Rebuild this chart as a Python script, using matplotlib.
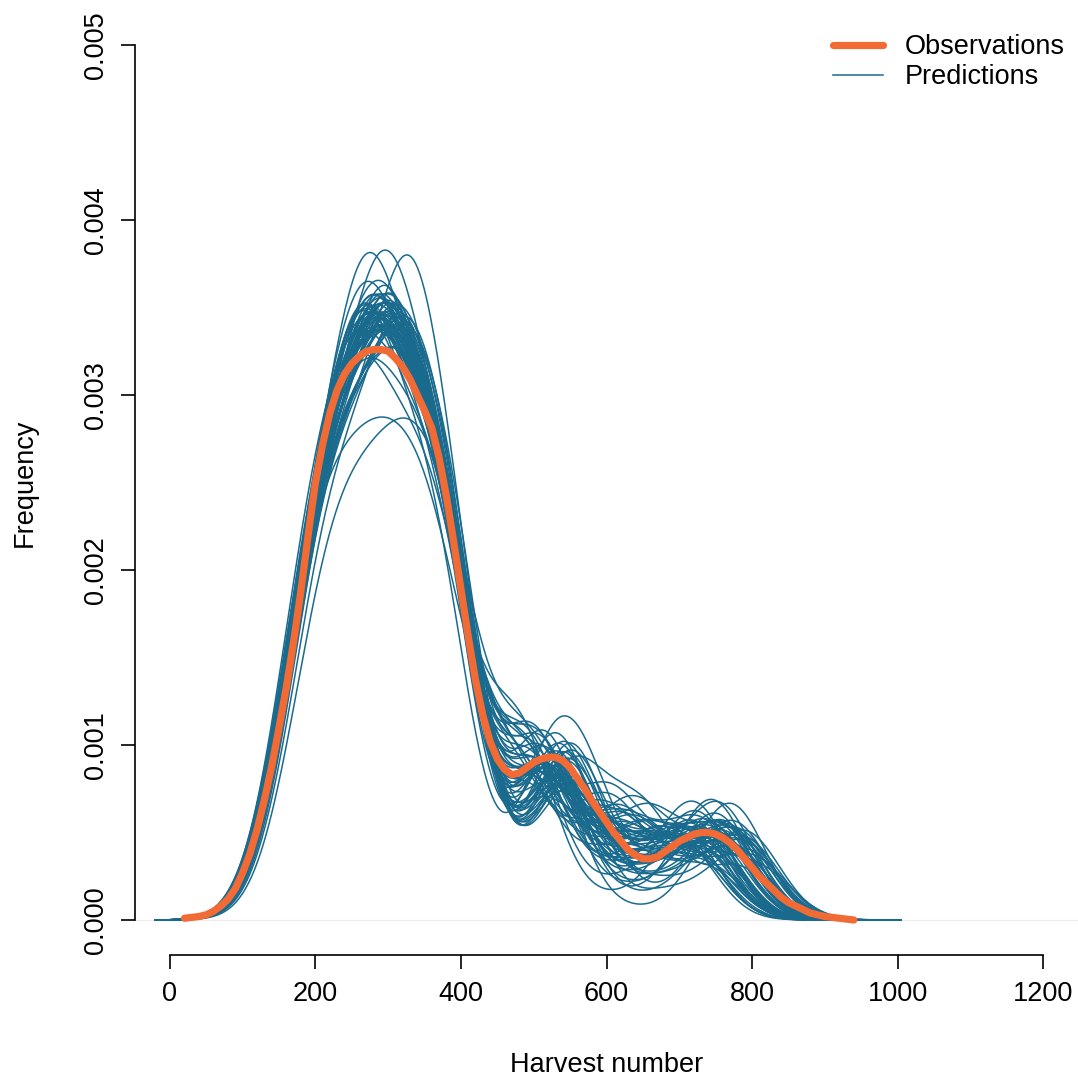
import math
import numpy as np
import matplotlib
matplotlib.use("Agg")
import matplotlib.pyplot as plt

plt.rcParams["font.family"] = ["Liberation Sans", "DejaVu Sans"]

obs_x = list(range(20, 950, 10))
obs_y = [0.00001, 0.000015, 0.00002, 0.00003, 0.00005, 0.00008, 0.00012, 0.00018,
         0.00027, 0.00038, 0.00052, 0.00069, 0.00088, 0.00110, 0.00133, 0.00159,
         0.00188, 0.00220, 0.00250, 0.00272, 0.00290, 0.00303, 0.00312, 0.00318,
         0.00322, 0.00325, 0.00326, 0.00326, 0.00325, 0.00321, 0.00316, 0.00309,
         0.00300, 0.00291, 0.00281, 0.00264, 0.00242, 0.00216, 0.00189, 0.00162,
         0.00137, 0.00117, 0.00102, 0.00092, 0.00086, 0.00083, 0.00084, 0.00087,
         0.00090, 0.00092, 0.00093, 0.00093, 0.00091, 0.00087, 0.00081, 0.00075,
         0.00068, 0.00062, 0.00056, 0.00050, 0.00045, 0.00040, 0.00037, 0.00035,
         0.00035, 0.00036, 0.00039, 0.00042, 0.00045, 0.00047, 0.00049, 0.00050,
         0.00050, 0.00049, 0.00047, 0.00044, 0.00040, 0.00035, 0.00030, 0.00025,
         0.00021, 0.00017, 0.00013, 0.00010, 0.00008, 0.00006, 0.00004, 0.00003,
         0.00002, 0.000015, 0.00001, 0.000005, 0.0]

# predicted densities, one entry per simulated curve:
# main hump (left/right edge, plateau height), extra peak, three tail bumps
pred_left = [163, 166, 170, 160, 168, 164, 167, 158,
             172, 165, 162, 169, 166, 156, 174, 164,
             168, 161, 170, 165, 163, 167, 171, 160,
             166, 169, 163, 174, 165, 162, 168, 164,
             171, 166, 158, 176, 163, 167, 165, 169,
             162, 170, 164, 168, 166, 172, 161, 167,
             165, 160, 169, 163, 171, 166, 164, 168,
             162, 167, 170, 165, 159, 168, 164, 166]
pred_right = [410, 414, 422, 406, 416, 410, 413, 404,
              419, 411, 408, 415, 412, 402, 424, 409,
              414, 407, 418, 410, 407, 416, 420, 405,
              413, 417, 408, 422, 411, 406, 415, 409,
              419, 412, 402, 426, 409, 414, 410, 416,
              407, 418, 409, 413, 411, 420, 405, 412,
              410, 404, 416, 408, 418, 412, 409, 414,
              406, 413, 417, 410, 403, 415, 409, 411]
pred_height = [0.00310, 0.00312, 0.00300, 0.00305, 0.00315, 0.00320, 0.00310, 0.00300,
               0.00318, 0.00322, 0.00315, 0.00300, 0.00330, 0.00295, 0.00310, 0.00325,
               0.00320, 0.00310, 0.00315, 0.00305, 0.00290, 0.00300, 0.00310, 0.00320,
               0.00315, 0.00305, 0.00300, 0.00290, 0.00318, 0.00312, 0.00322, 0.00308,
               0.00300, 0.00325, 0.00280, 0.00270, 0.00318, 0.00310, 0.00300, 0.00315,
               0.00320, 0.00305, 0.00312, 0.00328, 0.00300, 0.00310, 0.00315, 0.00305,
               0.00312, 0.00318, 0.00302, 0.00325, 0.00308, 0.00316, 0.00322, 0.00306,
               0.00314, 0.00300, 0.00320, 0.00310, 0.00326, 0.00304, 0.00317, 0.00311]
pred_peak_x = [272, 296, 330, 285, 300, 260, 310, 275,
               320, 290, 250, 305, 280, 265, 325, 295,
               285, 270, 315, 300, 255, 290, 310, 275,
               282, 298, 268, 318, 288, 278, 305, 262,
               322, 292, 300, 330, 285, 275, 295, 312,
               270, 300, 282, 296, 258, 328, 278, 290,
               284, 306, 266, 314, 292, 276, 300, 288,
               268, 310, 280, 296, 274, 318, 286, 302]
pred_peak_h = [0.00075, 0.00073, 0.00085, 0.00055, 0.00045, 0.00035, 0.00040, 0.00050,
               0.00030, 0.00020, 0.00030, 0.00055, 0.00010, 0.00060, 0.00035, 0.00025,
               0.00030, 0.00045, 0.00040, 0.00035, 0.00040, 0.00060, 0.00020, 0.00020,
               0.00035, 0.00050, 0.00025, 0.00060, 0.00040, 0.00030, 0.00020, 0.00050,
               0.00045, 0.00015, 0.00010, 0.00020, 0.00050, 0.00040, 0.00065, 0.00030,
               0.00025, 0.00045, 0.00035, 0.00020, 0.00055, 0.00040, 0.00045, 0.00050,
               0.00030, 0.00040, 0.00050, 0.00025, 0.00035, 0.00045, 0.00020, 0.00040,
               0.00055, 0.00030, 0.00035, 0.00045, 0.00025, 0.00040, 0.00030, 0.00050]
pred_t1_x = [505, 530, 545, 495, 520, 485, 535, 480,
             540, 515, 500, 530, 510, 530, 545, 505,
             540, 490, 550, 515, 480, 525, 540, 495,
             520, 510, 475, 550, 500, 530, 515, 490,
             550, 505, 470, 550, 520, 535, 500, 525,
             510, 550, 485, 515, 505, 545, 495, 530,
             515, 515, 490, 525, 545, 500, 520, 535,
             485, 530, 545, 510, 495, 525, 505, 540]
pred_t1_h = [0.00080, 0.00075, 0.00090, 0.00095, 0.00085, 0.00080, 0.00100, 0.00085,
             0.00075, 0.00105, 0.00085, 0.00080, 0.00095, 0.00095, 0.00090, 0.00075,
             0.00095, 0.00100, 0.00085, 0.00065, 0.00105, 0.00085, 0.00080, 0.00090,
             0.00075, 0.00100, 0.00080, 0.00080, 0.00075, 0.00095, 0.00085, 0.00095,
             0.00095, 0.00085, 0.00080, 0.00075, 0.00090, 0.00070, 0.00105, 0.00090,
             0.00080, 0.00100, 0.00090, 0.00095, 0.00085, 0.00075, 0.00075, 0.00105,
             0.00085, 0.00085, 0.00095, 0.00090, 0.00080, 0.00100, 0.00085, 0.00075,
             0.00090, 0.00080, 0.00095, 0.00085, 0.00070, 0.00090, 0.00080, 0.00100]
pred_t2_x = [630, 650, 665, 615, 640, 605, 680, 600,
             660, 640, 620, 655, 630, 590, 690, 625,
             670, 610, 650, 635, 600, 645, 675, 620,
             645, 630, 595, 670, 610, 660, 640, 625,
             665, 630, 585, 695, 645, 655, 615, 675,
             635, 660, 600, 640, 620, 655, 615, 650,
             625, 665, 605, 645, 680, 615, 640, 660,
             600, 650, 670, 630, 610, 645, 620, 660]
pred_t2_h = [0.00030, 0.00020, 0.00040, 0.00035, 0.00025, 0.00050, 0.00015, 0.00035,
             0.00045, 0.00010, 0.00055, 0.00050, 0.00020, 0.00040, 0.00035, 0.00045,
             0.00020, 0.00025, 0.00060, 0.00065, 0.00010, 0.00035, 0.00045, 0.00030,
             0.00050, 0.00005, 0.00050, 0.00030, 0.00065, 0.00035, 0.00040, 0.00020,
             0.00030, 0.00045, 0.00050, 0.00050, 0.00025, 0.00060, 0.00015, 0.00035,
             0.00055, 0.00010, 0.00045, 0.00030, 0.00050, 0.00040, 0.00060, 0.00020,
             0.00035, 0.00050, 0.00070, 0.00025, 0.00040, 0.00055, 0.00015, 0.00045,
             0.00060, 0.00030, 0.00020, 0.00050, 0.00040, 0.00010, 0.00055, 0.00035]
pred_t3_x = [740, 760, 775, 730, 750, 720, 790, 705,
             775, 745, 725, 760, 735, 710, 800, 740,
             770, 720, 780, 745, 715, 755, 785, 730,
             750, 765, 705, 790, 735, 760, 745, 725,
             780, 740, 700, 805, 755, 765, 730, 775,
             745, 770, 720, 750, 735, 775, 725, 760,
             735, 780, 715, 755, 790, 725, 750, 770,
             710, 760, 785, 740, 720, 755, 730, 775]
pred_t3_h = [0.00040, 0.00045, 0.00035, 0.00050, 0.00055, 0.00045, 0.00040, 0.00050,
             0.00050, 0.00068, 0.00035, 0.00045, 0.00050, 0.00040, 0.00035, 0.00055,
             0.00040, 0.00066, 0.00030, 0.00045, 0.00055, 0.00065, 0.00045, 0.00040,
             0.00050, 0.00055, 0.00050, 0.00050, 0.00030, 0.00040, 0.00050, 0.00060,
             0.00045, 0.00045, 0.00045, 0.00030, 0.00055, 0.00050, 0.00045, 0.00040,
             0.00035, 0.00066, 0.00055, 0.00045, 0.00050, 0.00055, 0.00040, 0.00050,
             0.00045, 0.00050, 0.00040, 0.00055, 0.00045, 0.00035, 0.00060, 0.00050,
             0.00040, 0.00055, 0.00045, 0.00030, 0.00050, 0.00045, 0.00055, 0.00040]

xticks = [0, 200, 400, 600, 800, 1000, 1200]
yticks = [0.000, 0.001, 0.002, 0.003, 0.004, 0.005]

orange = "#F26B35"
blue = "#1A6A8E"

erf = np.vectorize(math.erf)


def cdf(z):
    return 0.5 * (1 + erf(z / math.sqrt(2)))


def bump(x, m, h, s):
    return h * np.exp(-(x - m) ** 2 / (2 * s ** 2))


x = np.linspace(-20, 1005, 700)

fig = plt.figure(figsize=(10.78, 10.82), dpi=100)
ax = fig.add_axes([135 / 1078, 127 / 1082, 943 / 1078, 945 / 1082])

ax.axhline(0, color="#ececec", lw=0.8, zorder=0)

for i in range(len(pred_left)):
    y = pred_height[i] * (cdf((x - pred_left[i]) / 48) - cdf((x - pred_right[i]) / 44))
    y = y + bump(x, pred_peak_x[i], pred_peak_h[i], 40)
    y = y + bump(x, pred_t1_x[i], pred_t1_h[i], 48)
    y = y + bump(x, pred_t2_x[i], pred_t2_h[i], 48)
    y = y + bump(x, pred_t3_x[i], pred_t3_h[i], 48)
    ax.plot(x, y, color=blue, lw=1.1, label="Predictions" if i == 0 else None, zorder=2)

ax.plot(obs_x, obs_y, color=orange, lw=5.2, solid_capstyle="round",
        solid_joinstyle="round", label="Observations", zorder=3)

ax.set_xlim(-48, 1248)
ax.set_ylim(-0.0002, 0.0052)
ax.set_xticks(xticks)
ax.set_yticks(yticks)
ax.set_xticklabels([str(t) for t in xticks])
ax.set_yticklabels(["%.3f" % t for t in yticks], rotation=90, va="center")

for side in ["top", "right"]:
    ax.spines[side].set_visible(False)
ax.spines["left"].set_bounds(0, 0.005)
ax.spines["bottom"].set_bounds(0, 1200)
for side in ["left", "bottom"]:
    ax.spines[side].set_linewidth(1.2)
ax.tick_params(direction="out", length=10, width=1.2, labelsize=19.5, pad=9)

ax.set_xlabel("Harvest number", fontsize=19.5, labelpad=32)
ax.set_ylabel("Frequency", fontsize=19.5, labelpad=32)

h, l = ax.get_legend_handles_labels()
order = [l.index("Observations"), l.index("Predictions")]
ax.legend([h[k] for k in order], [l[k] for k in order], frameon=False,
          loc="upper left", bbox_to_anchor=(833 / 1078, 1 - 34 / 1082),
          bbox_transform=fig.transFigure, fontsize=19.5, handlelength=1.85,
          handletextpad=0.8, labelspacing=0.15, borderpad=0, borderaxespad=0)

fig.savefig("out.png", dpi=100)
